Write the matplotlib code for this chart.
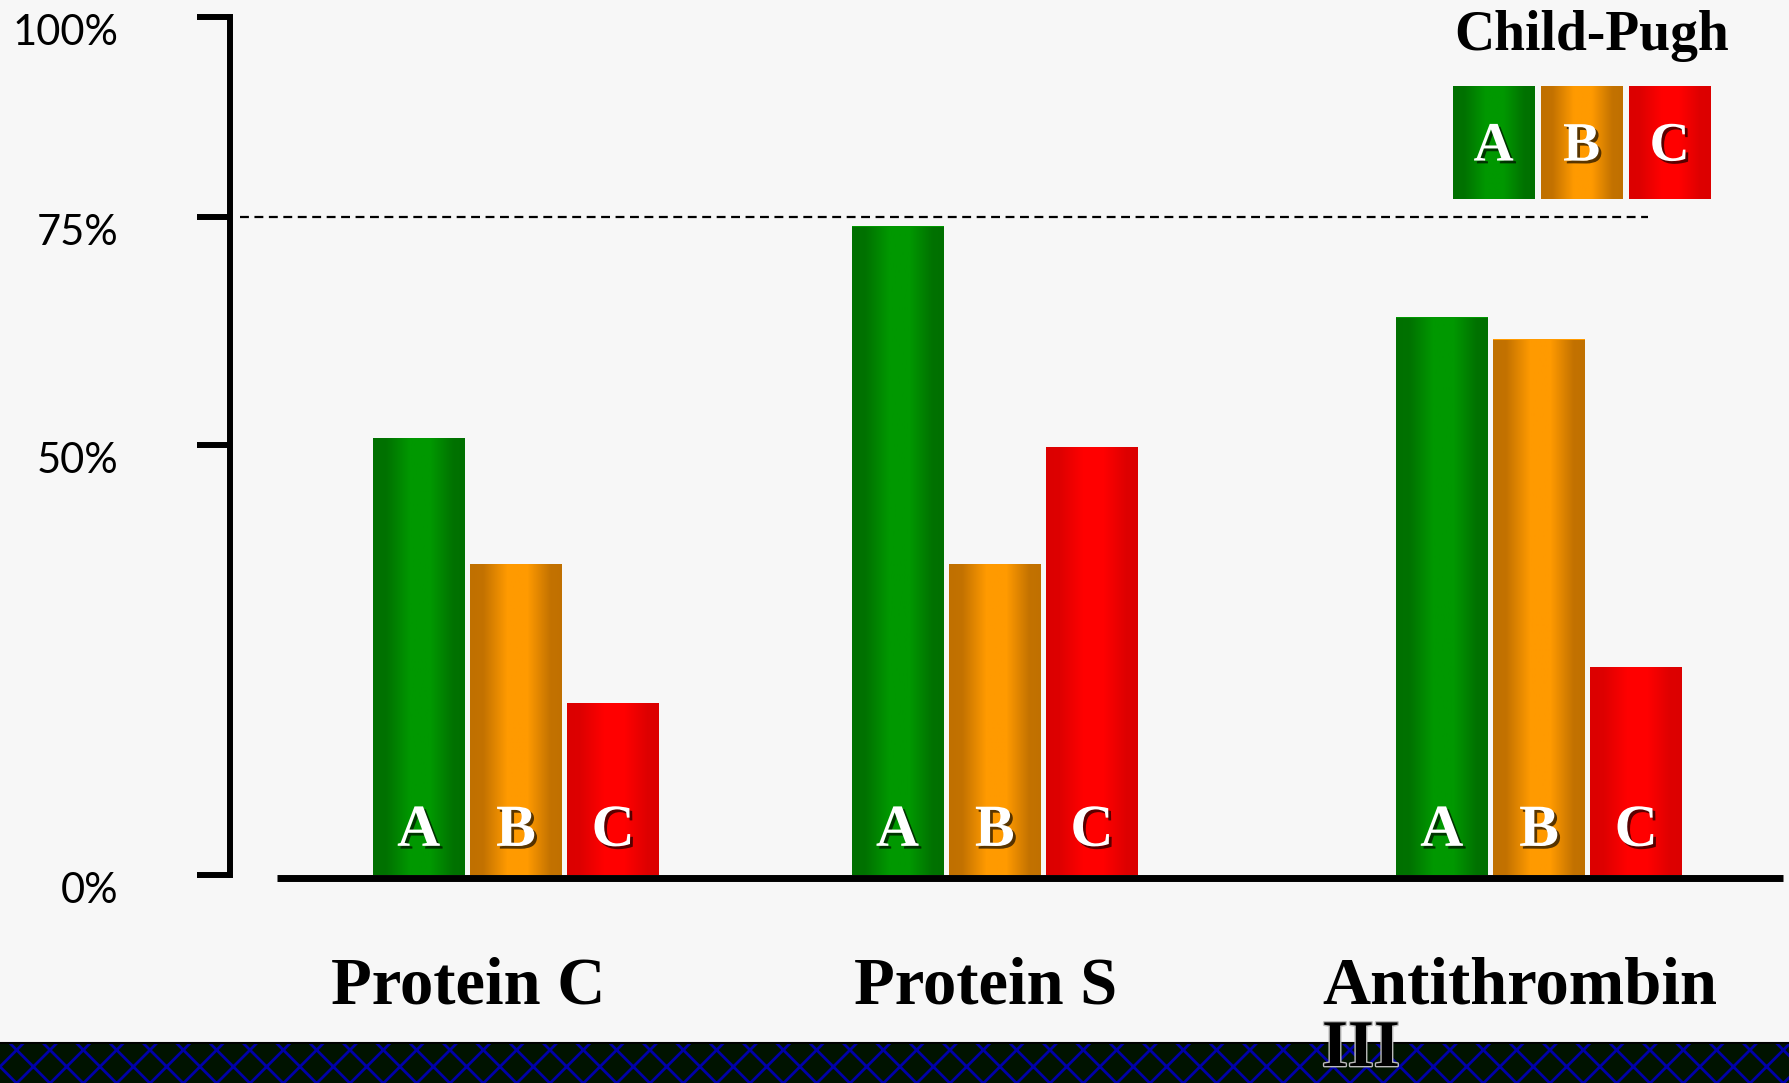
import numpy as np
import matplotlib
matplotlib.use('Agg')
import matplotlib.pyplot as plt
import matplotlib.patheffects as pe
from matplotlib.patches import Rectangle
from matplotlib.lines import Line2D
from matplotlib.transforms import ScaledTranslation, blended_transform_factory

# data
categories = ['Protein C', 'Protein S', 'Antithrombin\nIII']
grades = ['A', 'B', 'C']
grade_a = [50.8, 74.0, 64.0]
grade_b = [36.2, 36.2, 61.6]
grade_c = [20.0, 49.8, 24.2]
yticks = [0, 50, 75, 100]
ytick_labels = ['0%', '50%', '75%', '100%']
ref_line = 75
legend_title = 'Child-Pugh'

# colours (edge shade, middle shade) for the gradient bars
grade_colors = [('#007000', '#009800'), ('#C07000', '#FF9A00'), ('#DC0000', '#FF0000')]

W, H, DPI = 1790, 1083, 100
fig = plt.figure(figsize=(W / DPI, H / DPI), dpi=DPI, facecolor='#F7F7F7')

serif = ['Liberation Serif', 'DejaVu Serif']


def fx(x):
    return x / W


def fy(y):
    return 1 - y / H


def gradient(edge, mid, n=256):
    e = np.array(matplotlib.colors.to_rgb(edge))
    m = np.array(matplotlib.colors.to_rgb(mid))
    t = np.linspace(0, 1, n)
    f = np.interp(t, [0, 0.14, 0.40, 0.62, 0.87, 1], [0, 0.05, 1, 1, 0.05, 0])
    return (e + (m - e) * f[:, None])[None, :, :]


def shade_bars(axis, bars, edge, mid):
    for b in bars:
        x0, w, h = b.get_x(), b.get_width(), b.get_height()
        im = axis.imshow(gradient(edge, mid), extent=[x0, x0 + w, 0, h],
                         aspect='auto', zorder=b.get_zorder() + 0.1, interpolation='bilinear')
        im.set_clip_path(b)


shadow = [pe.withSimplePatchShadow(offset=(2, -2), shadow_rgbFace='black', alpha=0.65)]

# main axes, with the slide's uneven y axis (0-50 taller than 50-75 and 75-100)
ax = fig.add_axes([fx(230), fy(875), fx(1783) - fx(230), fy(17) - fy(875)])
y_nodes = [0, 50, 75, 100]
u_nodes = [0, 430, 658, 858]
ax.set_yscale('function', functions=(lambda v: np.interp(v, y_nodes, u_nodes),
                                     lambda u: np.interp(u, u_nodes, y_nodes)))
ax.patch.set_visible(False)

group_x = np.array([0.0, 0.936, 2.0])
offset, width = 0.19, 0.18
series = [grade_a, grade_b, grade_c]
for i, (vals, (edge, mid)) in enumerate(zip(series, grade_colors)):
    xs = group_x + (i - 1) * offset
    bars = ax.bar(xs, vals, width=width, color=mid, zorder=3)
    shade_bars(ax, bars, edge, mid)
    for x in xs:
        ax.annotate(grades[i], (x, 0), xytext=(0, 21), textcoords='offset points',
                    ha='center', va='baseline', fontsize=43, fontweight='bold',
                    color='white', family=serif, zorder=6, path_effects=shadow)

ax.set_xlim(-0.559, 2.477)
ax.set_ylim(0, 100)

# axis styling
for s in ['top', 'right', 'bottom']:
    ax.spines[s].set_visible(False)
ax.spines['left'].set_linewidth(4.3)
ax.set_yticks(yticks)
ax.set_xticks([])
ax.tick_params(axis='y', direction='out', length=23.8, width=4.3, labelleft=False)
lab_tr = blended_transform_factory(ax.transAxes, ax.transData) + \
    ScaledTranslation(0, -0.16, fig.dpi_scale_trans)
for v, lab in zip(yticks, ytick_labels):
    ax.text(-0.072, v, lab, transform=lab_tr, ha='right', va='center',
            fontsize=30, family=['Lato', 'DejaVu Sans'])

# baseline (x in axes fraction, y in data) and 75% reference line
base_tr = ax.get_yaxis_transform() + ScaledTranslation(0, -0.03, fig.dpi_scale_trans)
ax.plot([0.030, 1.0], [0, 0], color='black', lw=5, transform=base_tr,
        clip_on=False, zorder=2, solid_capstyle='butt')
ax.plot([-0.54, 2.213], [ref_line, ref_line], color='black', lw=1.6,
        linestyle=(0, (4, 2.5)), zorder=2)

# category labels
label_x = [331, 854, 1322]
for lx, cat in zip(label_x, categories):
    for j, line in enumerate(cat.split('\n')):
        fig.text(fx(lx), fy(1004 + j * 62), line, ha='left', va='baseline',
                 fontsize=48, fontweight='bold', family=serif, zorder=10,
                 path_effects=[pe.withStroke(linewidth=2, foreground='#BBBBBB')] if j else None)

# legend
fig.text(fx(1592), fy(50), legend_title, ha='center', va='baseline',
         fontsize=40, fontweight='bold', family=serif)
lax = fig.add_axes([fx(1452), fy(199), fx(1711) - fx(1452), fy(86) - fy(199)])
lax.axis('off')
for i, (edge, mid) in enumerate(grade_colors):
    b = lax.bar([i], [1], width=0.93, color=mid, zorder=2)
    shade_bars(lax, b, edge, mid)
    lax.text(i, 0.34, grades[i], ha='center', va='baseline', fontsize=40,
             fontweight='bold', color='white', family=serif, zorder=5,
             path_effects=shadow)
lax.set_xlim(-0.472, 2.47)
lax.set_ylim(0, 1)

# dark hatched band at the bottom of the slide
plt.rcParams['hatch.linewidth'] = 2.0
band = Rectangle((0, 0), 1, 40 / H, transform=fig.transFigure, facecolor='#001300',
                 edgecolor='#0000A8', hatch='x', lw=0, zorder=0)
fig.add_artist(band)
fig.add_artist(Line2D([0, 1], [fy(1043), fy(1043)], transform=fig.transFigure,
                      color='black', lw=1.5, zorder=1))

fig.savefig('out.png', dpi=DPI, facecolor=fig.get_facecolor())
